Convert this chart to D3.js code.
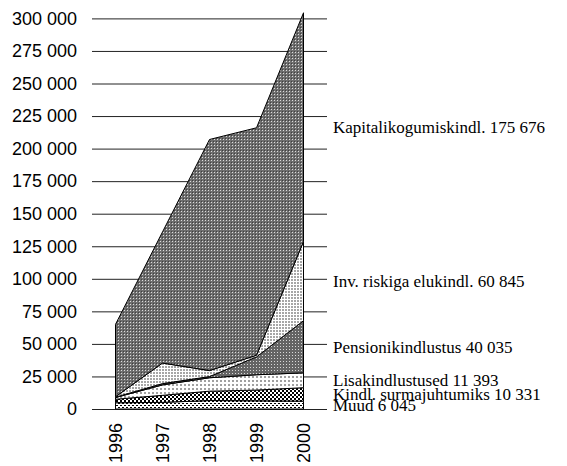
<!DOCTYPE html>
<html>
<head>
<meta charset="utf-8">
<script src="https://cdn.jsdelivr.net/npm/d3@7"></script>
<style>
  body { margin: 0; background: #fff; }
  svg { display: block; }
</style>
</head>
<body>
<svg id="chart" width="567" height="466"></svg>
<script>
// data
const years = ["1996", "1997", "1998", "1999", "2000"]
const seriesNames = ["Muud", "Kindl. surmajuhtumiks", "Lisakindlustused",
    "Pensionikindlustus", "Inv. riskiga elukindl.", "Kapitalikogumiskindl."]
const muud = [4800, 5100, 6500, 6300, 6045]
const surmajuhtumiks = [2700, 5400, 7200, 8200, 10331]
const lisakindlustused = [1300, 8000, 10300, 11800, 11393]
const pensionikindlustus = [300, 1000, 900, 13700, 40035]
const invRiskiga = [300, 15800, 4600, 1300, 60845]
const kapitalikogumis = [55600, 100700, 177500, 174700, 175676]
const yTicks = [0, 25000, 50000, 75000, 100000, 125000, 150000, 175000,
    200000, 225000, 250000, 275000, 300000]

const values = [muud, surmajuhtumiks, lisakindlustused, pensionikindlustus, invRiskiga, kapitalikogumis]
const rows = years.map((yr, i) => {
    let r = {year: yr}
    seriesNames.forEach((n, k) => { r[n] = values[k][i] })
    return r
})

const svg = d3.select("#chart")
const plot = {left: 92, right: 327, top: 18.4, bottom: 409}

const x = d3.scaleBand().domain(years).range([plot.left, plot.right])
const y = d3.scaleLinear().domain([0, 300000]).range([plot.bottom, plot.top])
const cx = d => x(d) + x.bandwidth() / 2

const fmt = d3.formatLocale({decimal: ",", thousands: "\u00a0", grouping: [3], currency: ["", ""]}).format(",")

// patterns
const defs = svg.append("defs")
function pattern(id, w, h, bg, dots) {
    const p = defs.append("pattern").attr("id", id)
        .attr("patternUnits", "userSpaceOnUse")
        .attr("width", w).attr("height", h)
    p.append("rect").attr("width", w).attr("height", h).attr("fill", bg)
    dots.forEach(d => {
        p.append("rect").attr("x", d[0]).attr("y", d[1])
            .attr("width", d[2]).attr("height", d[3]).attr("fill", d[4])
    })
}
pattern("p0", 4, 4, "#fff", [[0, 1, 2, 1, "#000"], [2, 3, 2, 1, "#000"]])
pattern("p1", 4, 4, "#fff", [[0, 0, 2, 2, "#000"], [2, 2, 2, 2, "#000"]])
pattern("p2", 4, 4, "#fff", [[0, 0, 2, 2, "#a0a0a0"]])
pattern("p3", 3, 3, "#646464", [[1, 1, 1, 1, "#d8d8d8"]])
pattern("p4", 3, 3, "#fff", [[0, 0, 2, 2, "#a6a6a6"]])
pattern("p5", 3, 3, "#6e6e6e", [[1, 1, 1, 1, "#dcdcdc"], [0, 0, 1, 1, "#404040"]])

// gridlines + y labels
const yAxis = svg.append("g")
    .attr("transform", `translate(${plot.left},0)`)
    .call(d3.axisLeft(y).tickValues(yTicks).tickFormat(fmt)
        .tickSizeInner(-(plot.right - plot.left)).tickSizeOuter(0).tickPadding(15))
yAxis.select(".domain").remove()
yAxis.selectAll(".tick line").attr("stroke", "#222").attr("stroke-width", 1)
yAxis.selectAll(".tick text")
    .attr("fill", "#000")
    .style("font-family", "'Liberation Sans', Arial, sans-serif")
    .style("font-size", "18px")

// stacked areas
const stack = d3.stack().keys(seriesNames)
const layers = stack(rows)

const area = d3.area()
    .x(d => cx(d.data.year))
    .y0(d => y(d[0]))
    .y1(d => y(d[1]))

svg.append("g").selectAll("path")
    .data(layers)
    .enter().append("path")
    .attr("d", area)
    .attr("fill", (d, i) => `url(#p${i})`)
    .attr("stroke", "#000")
    .attr("stroke-width", 1)
    .attr("stroke-linejoin", "round")

// x labels
const xAxis = svg.append("g")
    .attr("transform", `translate(0,${plot.bottom})`)
    .call(d3.axisBottom(x).tickSize(0))
xAxis.select(".domain").remove()
xAxis.selectAll(".tick text")
    .attr("fill", "#000")
    .attr("transform", "rotate(-90)")
    .attr("x", -14)
    .attr("y", 0)
    .attr("dy", "0.35em")
    .attr("text-anchor", "end")
    .style("font-family", "'Liberation Sans', Arial, sans-serif")
    .style("font-size", "18px")

// series labels at the 2000 end
const last = years.length - 1
svg.append("g").selectAll("text")
    .data(layers)
    .enter().append("text")
    .attr("x", 333)
    .attr("y", d => y((d[last][0] + d[last][1]) / 2))
    .attr("dy", "0.35em")
    .style("font-family", "'Liberation Serif', 'Times New Roman', serif")
    .style("font-size", "17px")
    .attr("fill", "#000")
    .text(d => d.key + " " + fmt(d[last].data[d.key]))
</script>
</body>
</html>
